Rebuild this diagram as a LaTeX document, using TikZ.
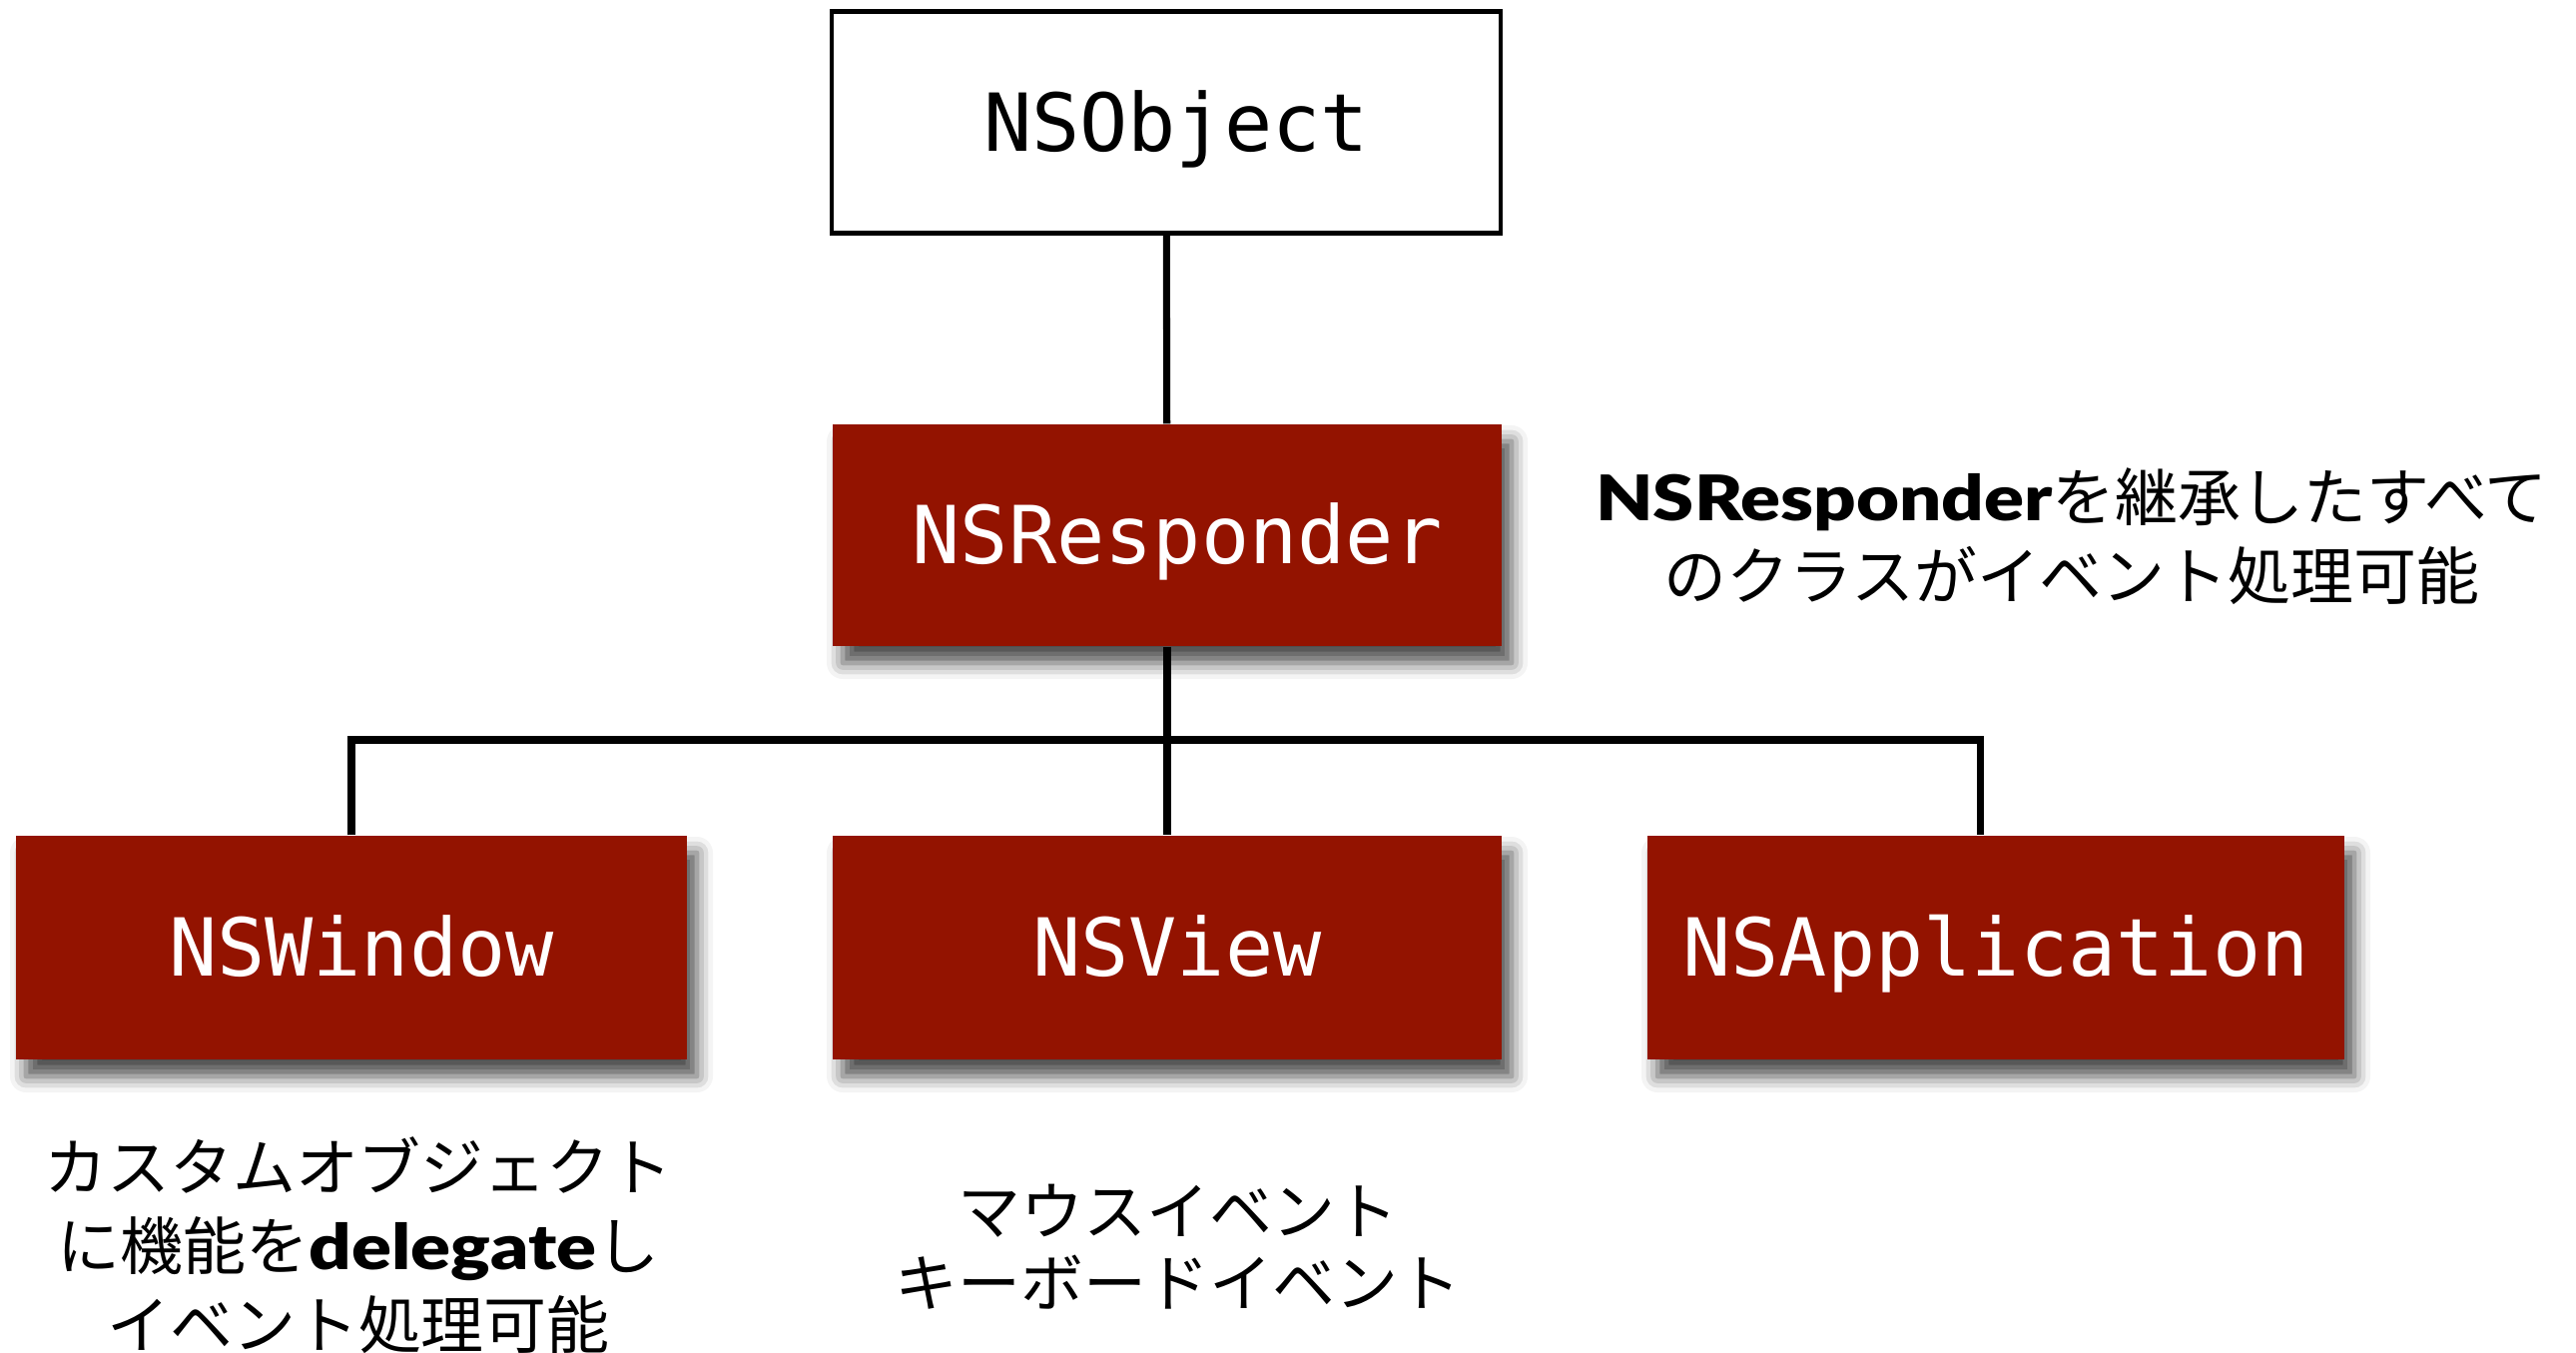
\documentclass[tikz,border=0pt]{standalone}
\usepackage{fontspec}
\setmonofont{DejaVu Sans Mono}
\newfontfamily\jpfont{Noto Sans CJK JP}
\newfontfamily\latfont{Lato Black}[FakeStretch=1.18]
\usepackage{tikz}
\usetikzlibrary{shadows.blur}
\definecolor{brick}{HTML}{931300}
\newcommand{\boldlat}[1]{{\latfont #1}}
\tikzset{
  classbox/.style={minimum width=6.7cm, minimum height=2.22cm, inner sep=0pt,
    text height=0.58cm, text depth=0pt,
    font=\ttfamily\fontsize{22.8pt}{26pt}\selectfont},
  nudge/.style={execute at begin node=\hspace*{#1}},
  nudge/.default=0.2cm,
  rootbox/.style={classbox, draw=black, line width=1.2pt, fill=white},
  redbox/.style={classbox, fill=brick, text=white,
    blur shadow={shadow xshift=0.1cm, shadow yshift=-0.17cm, shadow blur radius=0.16cm, shadow opacity=70}},
  link/.style={draw=black, line width=2pt},
  note/.style={align=center, inner sep=0pt, font=\jpfont\fontsize{17.9pt}{22.5pt}\selectfont},
}

\begin{document}
\begin{tikzpicture}
  \useasboundingbox (0,0) rectangle (25.8,-13.55);

  \node[rootbox, nudge] (obj) at (11.68,-1.225) {NSObject};
  \node[redbox, nudge] (resp) at (11.69,-5.36) {NSResponder};
  \node[redbox, nudge, minimum width=6.72cm, minimum height=2.24cm] (win) at (3.52,-9.49) {NSWindow};
  \node[redbox, nudge, minimum height=2.24cm] (view) at (11.69,-9.49) {NSView};
  \node[redbox, minimum width=6.98cm, minimum height=2.24cm] (app) at (19.99,-9.49) {NSApplication};

  \coordinate (fork) at (11.67,-7.41);
  \draw[link] (obj) -- (resp);
  \draw[link] (resp) -- (view);
  \draw[link] (win.north) |- (fork) -| ([xshift=-1.6mm]app.north);

  \node[note] (resptext) at (20.75,-5.37) {\boldlat{NSResponder}を継承したすべて\\のクラスがイベント処理可能};
  \node[note] (wintext) at (3.59,-12.47) {カスタムオブジェクト\\に機能を\boldlat{delegate}し\\イベント処理可能};
  \node[note, font=\jpfont\fontsize{17.9pt}{20.5pt}\selectfont] (viewtext) at (11.80,-12.49) {マウスイベント\\キーボードイベント};
\end{tikzpicture}
\end{document}
